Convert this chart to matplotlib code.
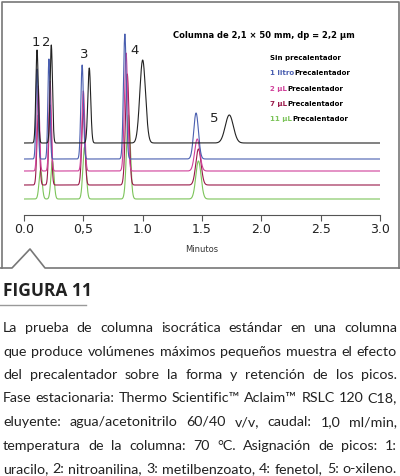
import numpy as np
import matplotlib
matplotlib.use("Agg")
import matplotlib.pyplot as plt
from matplotlib.lines import Line2D

series = ["Sin precalentador", "1 litro", "2 µL", "7 µL", "11 µL"]
colors = ["#222222", "#4a5fb0", "#d0409a", "#9a1a4a", "#7cc45a"]
rt = [[0.11, 0.23, 0.55, 1.00, 1.73],
      [0.11, 0.21, 0.49, 0.85, 1.45],
      [0.12, 0.22, 0.50, 0.86, 1.46],
      [0.12, 0.22, 0.50, 0.87, 1.47],
      [0.14, 0.24, 0.51, 0.88, 1.47]]
heights = [[93, 98, 75, 83, 28],
           [90, 100, 94, 125, 46],
           [85, 90, 80, 118, 32],
           [70, 80, 76, 111, 36],
           [29, 38, 52, 84, 38]]
widths = [[0.010, 0.010, 0.012, 0.024, 0.034],
          [0.009, 0.009, 0.011, 0.012, 0.020],
          [0.010, 0.010, 0.012, 0.014, 0.022],
          [0.011, 0.011, 0.013, 0.015, 0.022],
          [0.013, 0.013, 0.014, 0.016, 0.022]]
offsets = [72, 56, 44, 30, 16]
peak_labels = ["1", "2", "3", "4", "5"]

fig = plt.figure(figsize=(4.0, 4.76), dpi=100)
W, H = 400, 476
ax = fig.add_axes([24/W, 1-215/H, 356/W, 190/H])
x = np.linspace(0.0, 3.0, 3000)
for i in range(len(series)):
    y = np.full_like(x, offsets[i], dtype=float)
    for t, h, w in zip(rt[i], heights[i], widths[i]):
        y += h*np.exp(-0.5*((x-t)/w)**2)
    ax.plot(x, y, color=colors[i], lw=0.8, zorder=10-i)
ax.set_xlim(0, 3.0); ax.set_ylim(0, 190)
for s in ["left", "right", "top"]:
    ax.spines[s].set_visible(False)
ax.spines["bottom"].set_color("#555555")
ax.set_yticks([])
ax.set_xticks([0, 0.5, 1.0, 1.5, 2.0, 2.5, 3.0])
ax.set_xticklabels(["0.0", "0,5", "1.0", "1.5", "2.0", "2.5", "3.0"], fontsize=9, color="#222222")
ax.tick_params(axis="x", length=4, color="#555555", pad=2)
ax.set_xlabel("Minutos", fontsize=6, labelpad=6, color="#333333")
lab_pos = [(0.10, 173), (0.19, 173), (0.51, 160), (0.93, 165), (1.60, 96)]
for l, (px, py) in zip(peak_labels, lab_pos):
    ax.text(px, py, l, fontsize=9.5, ha="center", va="center", color="#222222")
fig.text(173/W, 1-35/H, "Columna de 2,1 × 50 mm, dp = 2,2 µm", fontsize=6, weight="bold", va="center")
leg_y = [58, 73, 89, 104, 119]
for i, (s, c) in enumerate(zip(series, colors)):
    if i == 0:
        fig.text(270/W, 1-leg_y[i]/H, s, fontsize=5, weight="bold", va="center")
    else:
        t = fig.text(270/W, 1-leg_y[i]/H, s, fontsize=5, weight="bold", va="center", color=c)
        fig.canvas.draw()
        bb = t.get_window_extent()
        fig.text(bb.x1/W + 0.5/W, 1-leg_y[i]/H, "Precalentador", fontsize=5, weight="bold", va="center")

gc = "#777777"
fig.add_artist(Line2D([1.5/W, 1.5/W, (W-1.5)/W, (W-1.5)/W], [1-268/H, 1-1.5/H, 1-1.5/H, 1-268/H], color=gc, lw=1.2))
fig.add_artist(Line2D(np.array([0, 12, 30, 45, 400])/W, 1-np.array([268, 268, 249, 268, 268])/H, color=gc, lw=1.2))

fig.text(3/W, 1-291/H, "FIGURA 11", fontsize=12.5, weight="bold", va="center", family="Open Sans", color="#222222")
fig.add_artist(Line2D([0, 86/W], [1-305/H, 1-305/H], color="#999999", lw=1))

lines = ["La prueba de columna isocrática estándar en una columna",
         "que produce volúmenes máximos pequeños muestra el efecto",
         "del precalentador sobre la forma y retención de los picos.",
         "Fase estacionaria: Thermo Scientific™ Aclaim™ RSLC 120 C18,",
         "eluyente: agua/acetonitrilo 60/40 v/v, caudal: 1,0 ml/min,",
         "temperatura de la columna: 70 °C. Asignación de picos: 1:",
         "uracilo, 2: nitroanilina, 3: metilbenzoato, 4: fenetol, 5: o-xileno."]
fig.canvas.draw()
r = fig.canvas.get_renderer()
x0, x1 = 3, 397
for k, ln in enumerate(lines):
    yy = 1-(328+k*23.5)/H
    words = ln.split(" ")
    ts = [fig.text(0, yy, w_, fontsize=10.3, family="Lato", va="center", color="#222222") for w_ in words]
    ws = [t.get_window_extent(r).width for t in ts]
    gap = (x1-x0-sum(ws))/(len(words)-1)
    pos = x0
    for t, w_ in zip(ts, ws):
        t.set_x(pos/W); pos += w_+gap

fig.savefig("out.png", dpi=100)
